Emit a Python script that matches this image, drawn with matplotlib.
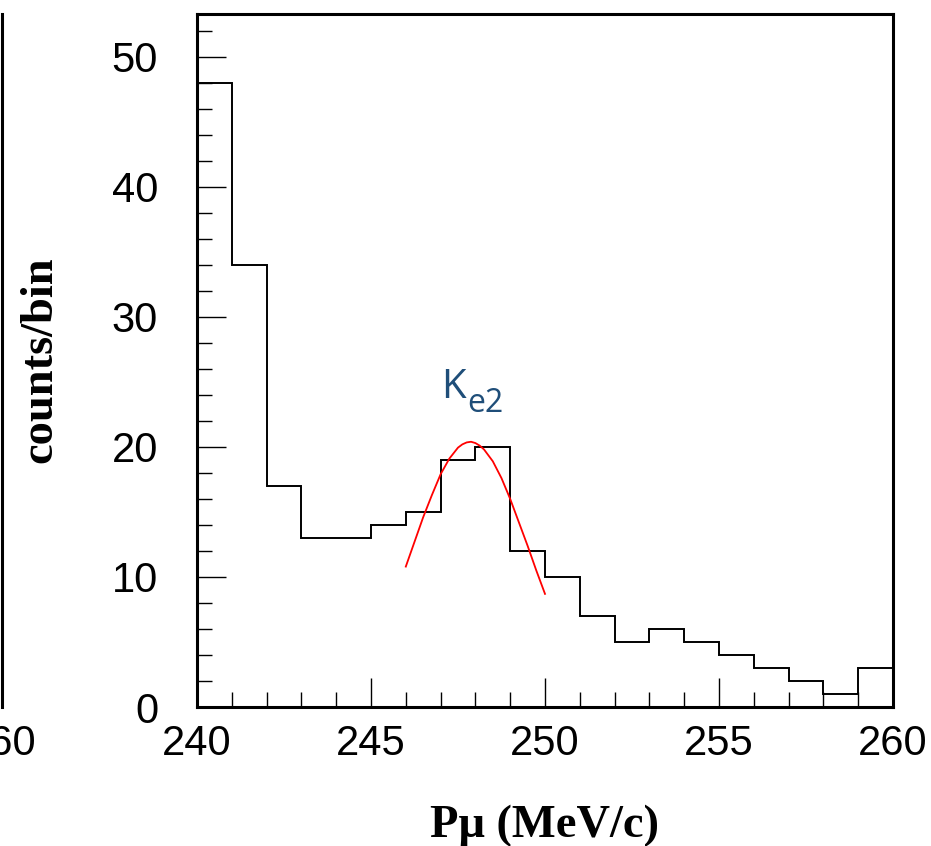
import numpy as np
import matplotlib
matplotlib.use("Agg")
import matplotlib.pyplot as plt

# histogram of muon momentum, 1 MeV/c bins from 240 to 260
edges = np.arange(240, 261, 1)
counts = [48, 34, 17, 13, 13, 14, 15, 19, 20, 12,
          10, 7, 5, 6, 5, 4, 3, 2, 1, 3]

# red fit curve
fit_x = [246.0, 246.25, 246.5, 246.75, 247.0, 247.25, 247.5, 247.625, 247.75,
         247.875, 248.0, 248.125, 248.25, 248.5, 248.75, 249.0, 249.25,
         249.5, 249.75, 250.0]
fit_y = [10.8, 12.7, 14.6, 16.3, 17.9, 19.1, 19.95, 20.2, 20.35,
         20.4, 20.3, 20.1, 19.8, 18.9, 17.6, 16.0, 14.2,
         12.4, 10.5, 8.7]

W, H = 931, 846
fig = plt.figure(figsize=(W / 100, H / 100), dpi=100)

tick_family = "Liberation Sans"
tick_size = 30
label_font = dict(family="Liberation Serif", weight="bold", size=33.5)

# main axes
x0, x1, y0, y1 = 197, 893, 14, 707
ax = fig.add_axes([x0 / W, 1 - y1 / H, (x1 - x0) / W, (y1 - y0) / H])
ax.stairs(counts, edges, color="black", lw=1.4)
ax.plot(fit_x, fit_y, color="red", lw=1.3)

ax.set_xlim(240, 260)
ax.set_ylim(0, 53.3)
ax.set_xticks([240, 245, 250, 255, 260])
ax.set_xticks(np.arange(240, 261, 1), minor=True)
ax.set_yticks([0, 10, 20, 30, 40, 50])
ax.set_yticks(np.arange(0, 53, 2), minor=True)
ax.tick_params(which="both", direction="in", width=1.0, colors="black")
ax.tick_params(which="major", length=21)
ax.tick_params(which="minor", length=10.5)
ax.tick_params(axis="x", pad=12)
ax.tick_params(axis="y", pad=28)
for lab in ax.get_xticklabels() + ax.get_yticklabels():
    lab.set_fontfamily(tick_family)
    lab.set_fontsize(tick_size)
for s in ax.spines.values():
    s.set_linewidth(2.2)

# cut-off neighbouring panel on the left
ax0 = fig.add_axes([-0.7, 1 - y1 / H, 0.7 + 1.5 / W, (y1 - y0) / H])
ax0.set_xlim(240, 260)
ax0.set_ylim(0, 53.3)
ax0.set_xticks([260])
ax0.set_yticks([])
ax0.tick_params(axis="x", length=0, pad=12)
for lab in ax0.get_xticklabels():
    lab.set_fontfamily(tick_family)
    lab.set_fontsize(tick_size)
for side in ["top", "left", "bottom"]:
    ax0.spines[side].set_visible(False)
ax0.spines["right"].set_linewidth(2.2)

# axis titles
fig.text(40 / W, 1 - 360 / H, "counts/bin", rotation=90,
         ha="center", va="center", **label_font)
fig.text(544 / W, 1 - 826 / H, "P\u03bc (MeV/c)",
         ha="center", va="center", **label_font)

# annotation K_e2
fig.text(441 / W, 1 - 398 / H, "K", family="Open Sans", size=29,
         color="#1f4e79", va="baseline")
fig.text(467 / W, 1 - 412 / H, "e2", family="Open Sans", size=23,
         color="#1f4e79", va="baseline")

fig.savefig("out.png", dpi=100)
